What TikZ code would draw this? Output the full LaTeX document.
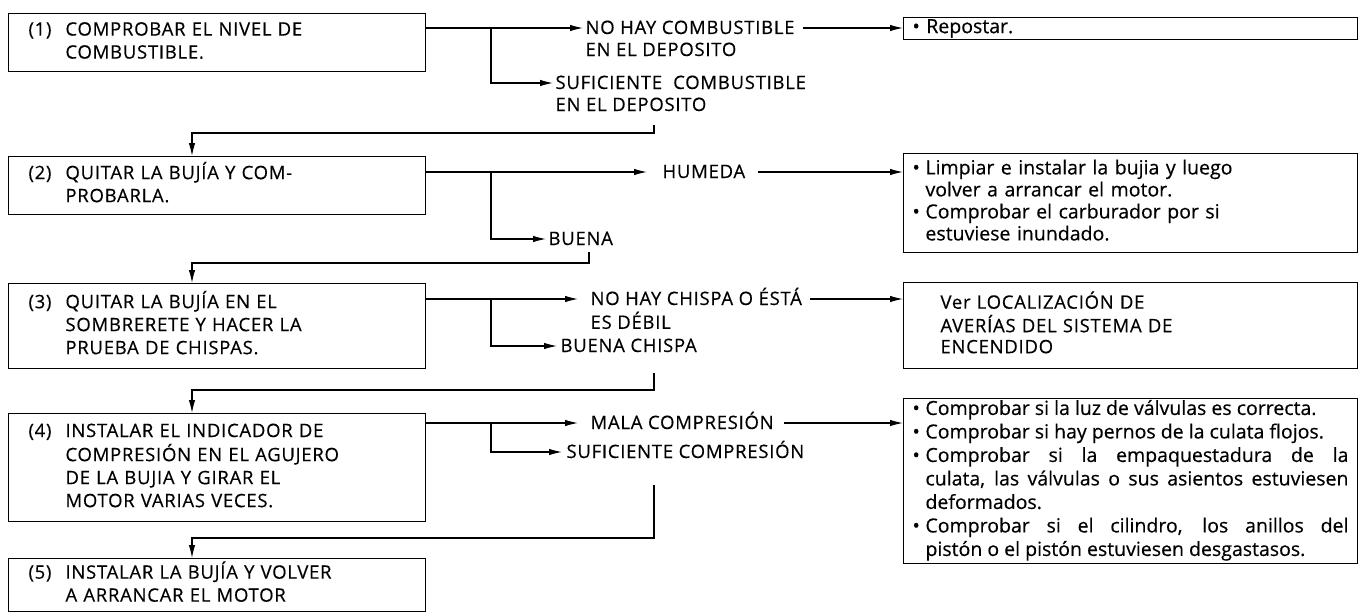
\documentclass[tikz,border=0pt]{standalone}
\usepackage{fontspec}
\setmainfont{Open Sans}[FakeBold=0.4]
\newfontfamily\capsfont{Open Sans}[LetterSpace=4, FakeBold=0.4]
\usepackage{tikz}
\usetikzlibrary{arrows.meta, calc}
\hyphenpenalty=10000
\tikzset{>={Latex[length=13pt,width=6.5pt]}}
\tikzset{paso/.style={draw, line width=1pt, anchor=north west, inner xsep=20pt, inner ysep=0pt,
  text width=377pt, align=left, font=\capsfont\fontsize{18.5}{23}\selectfont}}
\tikzset{resul/.style={draw, line width=1pt, anchor=north west, inner xsep=9pt, inner ysep=0pt,
  text width=436pt, align=left, font=\fontsize{19.5}{22}\selectfont}}
\tikzset{rama/.style={anchor=base west, inner sep=0pt,
  font=\capsfont\fontsize{18.5}{22}\selectfont}}

\begin{document}
\begin{tikzpicture}[x=1pt, y=-1pt, line width=1.1pt]
  \useasboundingbox (0,0) rectangle (1371,613);
  % pasos
  \node[paso, minimum height=58pt] (b1) at (8,13) {\begin{tabular}{@{}p{37pt}@{}l@{}}
    (1) & COMPROBAR EL NIVEL DE\\ & COMBUSTIBLE.\end{tabular}};
  \node[paso, minimum height=58pt] (b2) at (8,156) {\begin{tabular}{@{}p{37pt}@{}l@{}}
    (2) & QUITAR LA BUJÍA Y COM-\\ & PROBARLA.\end{tabular}};
  \node[paso, minimum height=85pt] (b3) at (8,283) {\begin{tabular}{@{}p{37pt}@{}l@{}}
    (3) & QUITAR LA BUJÍA EN EL\\ & SOMBRERETE Y HACER LA\\ & PRUEBA DE CHISPAS.\end{tabular}};
  \node[paso, minimum height=108pt] (b4) at (8,413) {\begin{tabular}{@{}p{37pt}@{}l@{}}
    (4) & INSTALAR EL INDICADOR DE\\ & COMPRESIÓN EN EL AGUJERO\\ & DE LA BUJIA Y GIRAR EL\\
    & MOTOR VARIAS VECES.\end{tabular}};
  \node[paso, minimum height=53pt] (b5) at (8,558) {\begin{tabular}{@{}p{37pt}@{}l@{}}
    (5) & INSTALAR LA BUJÍA Y VOLVER\\ & A ARRANCAR EL MOTOR\end{tabular}};
  % resultados
  \node[rama] (nohay) at (585,34) {\begin{tabular}[t]{@{}l@{}}NO HAY COMBUSTIBLE\\EN EL DEPOSITO\end{tabular}};
  \node[rama] (sufic) at (555,89) {\begin{tabular}[t]{@{}l@{}}SUFICIENTE\ \ COMBUSTIBLE\\EN EL DEPOSITO\end{tabular}};
  \node[rama] (humeda) at (662,178) {HUMEDA};
  \node[rama] (buena) at (548,245) {BUENA};
  \node[rama] (nochispa) at (590,305) {\begin{tabular}[t]{@{}l@{}}NO HAY CHISPA O ÉSTÁ\\ES DÉBIL\end{tabular}};
  \node[rama] (buenach) at (560,352) {BUENA CHISPA};
  \node[rama] (mala) at (590,429) {MALA COMPRESIÓN};
  \node[rama] (sufcomp) at (566,458) {SUFICIENTE COMPRESIÓN};
  % remedios
  \node[resul, minimum height=22pt] (r1) at (903,17) {\textbullet\ Repostar.};
  \node[resul, minimum height=99pt] (r2) at (903,153) {\begin{tabular}{@{}p{13pt}@{}l@{}}
    \textbullet & Limpiar e instalar la bujia y luego\\ & volver a arrancar el motor.\\
    \textbullet & Comprobar el carburador por si\\ & estuviese inundado.\end{tabular}};
  \node[resul, minimum height=86pt, font=\capsfont\fontsize{18.5}{21}\selectfont] (r3) at (903,282)
    {\begin{tabular}{@{\hspace{28pt}}l@{}}
    Ver LOCALIZACIÓN DE\\ AVERÍAS DEL SISTEMA DE\\ ENCENDIDO\end{tabular}};
  \node[resul, align=justify, minimum height=154pt, font=\fontsize{19.5}{23.5}\selectfont] (r4) at (903,398)
    {\begin{tabular}{@{}p{13pt}@{}p{423pt}@{}}
    \textbullet & Comprobar si la luz de válvulas es correcta.\\
    \textbullet & Comprobar si hay pernos de la culata flojos.\\
    \textbullet & Comprobar si la empaquestadura de la\linebreak culata, las válvulas o sus asientos estuviesen\linebreak deformados.\\
    \textbullet & Comprobar si el cilindro, los anillos del\linebreak pistón o el pistón estuviesen desgastasos.\end{tabular}};

  \coordinate (k1) at (491,28);
  \coordinate (k2) at (491,172);
  \coordinate (k3) at (491,299);
  \coordinate (k4) at (491,423);
  \coordinate (t1) at (654,125);
  \coordinate (t2) at (589,252);
  \coordinate (t3) at (654,373);
  \coordinate (t4) at (654,485);

  \draw[->] (b1.east |- k1) -- ([xshift=-2pt,yshift=6pt]nohay.base west);
  \draw[->] (k1) |- ([xshift=-2pt,yshift=6pt]sufic.base west);
  \draw[->] ([xshift=8pt]nohay.base east |- k1) -- (r1.west |- k1);
  \draw[->] (t1) |- ([xshift=184pt,yshift=23pt]b2.north west) -- ([xshift=184pt]b2.north west);

  \draw[->] (b2.east |- k2) -- ([xshift=-15pt,yshift=6pt]humeda.base west);
  \draw[->] (k2) |- ([xshift=-2pt,yshift=6pt]buena.base west);
  \draw[->] ([xshift=12pt]humeda.base east |- k2) -- (r2.west |- k2);
  \draw[->] (t2) |- ([xshift=184pt,yshift=20pt]b3.north west) -- ([xshift=184pt]b3.north west);

  \draw[->] (b3.east |- k3) -- ([xshift=-12pt,yshift=6pt]nochispa.base west);
  \draw[->] (k3) |- ([xshift=-3pt,yshift=6pt]buenach.base west);
  \draw[->] ([xshift=8pt]nochispa.base east |- k3) -- (r3.west |- k3);
  \draw[->] (t3) |- ([xshift=184pt,yshift=23pt]b4.north west) -- ([xshift=184pt]b4.north west);

  \draw[->] (b4.east |- k4) -- ([xshift=-12pt,yshift=6pt]mala.base west);
  \draw[->] (k4) |- ([xshift=-4pt,yshift=6pt]sufcomp.base west);
  \draw[->] ([xshift=10pt]mala.base east |- k4) -- (r4.west |- k4);
  \draw[->] (t4) |- ([xshift=184pt,yshift=20pt]b5.north west) -- ([xshift=184pt]b5.north west);
\end{tikzpicture}
\end{document}
